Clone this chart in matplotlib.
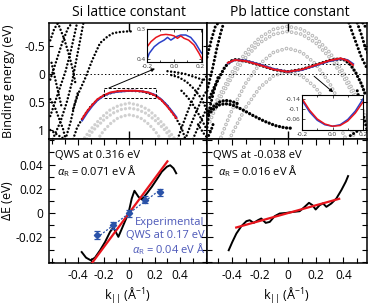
import numpy as np
import matplotlib.pyplot as plt
from matplotlib.ticker import MultipleLocator, FixedLocator

plt.rcParams['font.family'] = ['Open Sans', 'DejaVu Sans']
plt.rcParams['mathtext.fontset'] = 'custom'
plt.rcParams['mathtext.rm'] = 'Open Sans'
plt.rcParams['mathtext.it'] = 'Open Sans:italic'
plt.rcParams['lines.scale_dashes'] = False

# ---------------- data ----------------
# top left: Si lattice constant (k in 1/A, binding energy in eV)
si_qws_k = [-0.44, -0.41, -0.38, -0.35, -0.3, -0.25, -0.2, -0.1, 0, 0.1, 0.2, 0.25, 0.3, 0.35, 0.38, 0.41, 0.44]
si_qws_e = [1.16, 0.96, 0.84, 0.73, 0.57, 0.46, 0.38, 0.31, 0.30, 0.31, 0.38, 0.46, 0.57, 0.73, 0.84, 0.96, 1.16]
si_red_k = [-0.37, -0.33, -0.29, -0.25, -0.2, -0.15, -0.1, -0.05, 0, 0.05, 0.1, 0.15, 0.2, 0.25, 0.29, 0.33, 0.37]
si_red_e = [0.80, 0.66, 0.55, 0.45, 0.38, 0.33, 0.31, 0.30, 0.30, 0.30, 0.31, 0.33, 0.38, 0.46, 0.56, 0.67, 0.79]
si_blue_e = [0.83, 0.69, 0.57, 0.47, 0.39, 0.34, 0.32, 0.31, 0.30, 0.30, 0.31, 0.33, 0.37, 0.45, 0.54, 0.65, 0.77]
si_hole_k = [-0.44, -0.4, -0.345, -0.29, -0.23, -0.17, -0.125, -0.07, -0.016, 0.03]
si_hole_e = [0.62, 0.35, 0.07, -0.25, -0.55, -0.67, -0.73, -0.75, -0.76, -0.76]
si_edge_k = [[-0.62, -0.57, -0.52, -0.48, -0.45],
             [-0.62, -0.56, -0.5, -0.46, -0.43, -0.41],
             [-0.6, -0.54, -0.49, -0.45, -0.42, -0.39, -0.36],
             [-0.5, -0.46, -0.43, -0.4],
             [-0.56, -0.51, -0.47, -0.44, -0.42],
             [-0.62, -0.59, -0.56],
             [-0.62, -0.58, -0.54, -0.51],
             [-0.62, -0.58, -0.55, -0.52, -0.5],
             [-0.61, -0.58, -0.555, -0.53],
             [0.38, 0.42, 0.47, 0.52, 0.57, 0.62],
             [0.44, 0.48, 0.53, 0.58, 0.62],
             [0.5, 0.55, 0.59, 0.62],
             [0.33, 0.39, 0.45, 0.51, 0.57, 0.62],
             [0.3, 0.37, 0.44, 0.52, 0.6],
             [0.41, 0.46, 0.51, 0.56, 0.61],
             [0.54, 0.58, 0.62]]
si_edge_e = [[0.1, -0.25, -0.6, -0.82, -0.91],
             [0.75, 0.35, -0.05, -0.4, -0.7, -0.91],
             [1.16, 0.85, 0.5, 0.15, -0.2, -0.55, -0.91],
             [1.16, 0.85, 0.55, 0.3],
             [-0.91, -0.62, -0.32, -0.05, 0.2],
             [-0.6, -0.8, -0.91],
             [1.0, 1.06, 1.12, 1.16],
             [0.45, 0.62, 0.8, 0.98, 1.16],
             [-0.2, 0.1, 0.35, 0.6],
             [1.16, 0.9, 0.6, 0.35, 0.15, 0.0],
             [1.16, 0.92, 0.65, 0.4, 0.25],
             [1.16, 0.9, 0.7, 0.55],
             [0.02, 0.06, 0.14, 0.27, 0.45, 0.7],
             [-0.05, -0.03, 0.0, 0.06, 0.12],
             [0.3, 0.42, 0.58, 0.78, 1.0],
             [0.9, 1.05, 1.16]]
si_grey_k = [[-0.37, -0.3, -0.22, -0.15, -0.08, 0, 0.08, 0.15, 0.22, 0.3, 0.37],
             [-0.35, -0.28, -0.2, -0.13, -0.06, 0, 0.06, 0.13, 0.2, 0.28, 0.35],
             [-0.25, -0.2, -0.15, -0.1, -0.05, 0, 0.05, 0.1, 0.15, 0.2, 0.25]]
si_grey_e = [[1.2, 0.98, 0.78, 0.64, 0.56, 0.52, 0.56, 0.64, 0.78, 0.98, 1.2],
             [1.22, 1.0, 0.82, 0.70, 0.63, 0.61, 0.63, 0.70, 0.82, 1.0, 1.22],
             [1.17, 1.01, 0.89, 0.8, 0.75, 0.73, 0.75, 0.8, 0.89, 1.01, 1.17]]
si_inset_red_k = [-0.207, -0.17, -0.133, -0.096, -0.059, -0.022, 0.002, 0.027, 0.052, 0.076, 0.11, 0.15, 0.188, 0.21]
si_inset_red_e = [0.364, 0.342, 0.328, 0.32, 0.318, 0.32, 0.323, 0.331, 0.323, 0.331, 0.337, 0.353, 0.381, 0.40]
si_inset_blue_k = [-0.207, -0.183, -0.146, -0.109, -0.072, -0.047, -0.022, 0.015, 0.052, 0.089, 0.126, 0.163, 0.2, 0.21]
si_inset_blue_e = [0.409, 0.381, 0.359, 0.346, 0.337, 0.328, 0.337, 0.326, 0.32, 0.32, 0.328, 0.348, 0.376, 0.382]

# top right: Pb lattice constant
pb_w_k = [-0.56, -0.53, -0.49, -0.45, -0.41, -0.37, -0.3, -0.2, -0.1, 0, 0.1, 0.2, 0.3, 0.37, 0.41, 0.45, 0.49, 0.53, 0.56]
pb_w_e = [0.42, 0.25, 0.05, -0.13, -0.23, -0.26, -0.23, -0.16, -0.08, -0.04, -0.08, -0.16, -0.24, -0.27, -0.25, -0.17, -0.02, 0.18, 0.38]
pb_red_k = [-0.43, -0.38, -0.3, -0.2, -0.1, 0, 0.1, 0.2, 0.3, 0.38, 0.43, 0.47]
pb_red_e = [-0.2, -0.25, -0.23, -0.16, -0.08, -0.04, -0.08, -0.16, -0.24, -0.28, -0.24, -0.16]
pb_blue_e = [-0.19, -0.25, -0.24, -0.17, -0.09, -0.04, -0.07, -0.15, -0.23, -0.27, -0.25, -0.18]
pb_low_k = [[-0.57, -0.53, -0.49, -0.45, -0.4, -0.33, -0.25, -0.17, -0.09, -0.02, 0.04],
            [-0.57, -0.53, -0.49, -0.45, -0.4, -0.34]]
pb_low_e = [[0.72, 0.62, 0.55, 0.53, 0.55, 0.63, 0.74, 0.84, 0.92, 0.96, 0.97],
            [0.66, 0.57, 0.5, 0.47, 0.49, 0.55]]
pb_edge_k = [[-0.58, -0.55, -0.52, -0.5],
             [-0.58, -0.54, -0.51, -0.48, -0.46],
             [-0.58, -0.56, -0.53, -0.5],
             [-0.58, -0.55, -0.53],
             [0.44, 0.47, 0.5, 0.53, 0.57],
             [0.5, 0.53, 0.56, 0.58],
             [0.54, 0.57],
             [0.5, 0.53, 0.56, 0.58],
             [0.45, 0.5, 0.55]]
pb_edge_e = [[-0.3, -0.6, -0.85, -0.91],
             [0.3, -0.1, -0.45, -0.75, -0.91],
             [0.95, 0.6, 0.3, 0.05],
             [1.16, 1.0, 0.85],
             [-0.91, -0.7, -0.5, -0.3, -0.1],
             [-0.91, -0.7, -0.45, -0.35],
             [-0.91, -0.8],
             [0.3, 0.6, 0.9, 1.1],
             [1.1, 1.02, 0.98]]
pb_grey_k = [[-0.6, -0.55, -0.5, -0.4, -0.3, -0.2, -0.1, 0, 0.1, 0.2, 0.3, 0.4, 0.5, 0.55, 0.6],
             [-0.56, -0.5, -0.4, -0.3, -0.2, -0.1, 0, 0.1, 0.2, 0.3, 0.4, 0.5, 0.56],
             [-0.48, -0.45, -0.4, -0.3, -0.2, -0.1, 0, 0.1, 0.2, 0.3, 0.4, 0.45, 0.48],
             [-0.42, -0.38, -0.3, -0.2, -0.1, 0, 0.1, 0.2, 0.3, 0.38, 0.42]]
pb_grey_e = [[0.99, 0.69, 0.43, -0.03, -0.39, -0.65, -0.80, -0.85, -0.80, -0.65, -0.39, -0.03, 0.43, 0.69, 0.99],
             [0.85, 0.5, 0.05, -0.3, -0.56, -0.71, -0.76, -0.71, -0.56, -0.3, 0.05, 0.5, 0.85],
             [1.13, 0.94, 0.64, 0.16, -0.18, -0.39, -0.46, -0.39, -0.18, 0.16, 0.64, 0.94, 1.13],
             [1.17, 0.97, 0.59, 0.24, 0.03, -0.04, 0.03, 0.24, 0.59, 0.97, 1.17]]
pb_inset_k = [-0.2, -0.15, -0.1, -0.05, 0, 0.05, 0.1, 0.15, 0.2]
pb_inset_red_e = [-0.142, -0.095, -0.06, -0.04, -0.031, -0.034, -0.052, -0.084, -0.128]
pb_inset_blue_e = [-0.135, -0.088, -0.055, -0.037, -0.031, -0.037, -0.058, -0.092, -0.14]

# bottom left: Si splitting
si_split_k = [-0.371, -0.337, -0.30, -0.267, -0.227, -0.188, -0.149, -0.123, -0.084, -0.045, -0.005, 0.021, 0.042,
              0.073, 0.099, 0.139, 0.178, 0.217, 0.256, 0.296, 0.322, 0.348, 0.369]
si_split_de = [-0.032, -0.0366, -0.0388, -0.0366, -0.0305, -0.0237, -0.0154, -0.0118, -0.0195, -0.0099, 0.0, 0.0121,
               0.0184, 0.0135, 0.0113, 0.0162, 0.0217, 0.0278, 0.0341, 0.0382, 0.0394, 0.0369, 0.0328]
si_fit_k = [-0.29, 0.30]
si_fit_de = [-0.041, 0.0426]
exp_k = [-0.25, -0.125, 0.0, 0.125, 0.24]
exp_de = [-0.018, -0.010, 0.0, 0.011, 0.017]
exp_err = [0.003, 0.003, 0.003, 0.003, 0.003]
exp_fit_k = [-0.25, 0.24]
exp_fit_de = [-0.020, 0.019]

# bottom right: Pb splitting
pb_split_k = [-0.424, -0.398, -0.369, -0.333, -0.297, -0.273, -0.245, -0.214, -0.19, -0.158, -0.129, -0.094, -0.058,
              -0.01, 0.038, 0.086, 0.122, 0.153, 0.178, 0.201, 0.23, 0.254, 0.278, 0.314, 0.35, 0.386, 0.417, 0.434]
pb_split_de = [-0.0305, -0.0237, -0.0168, -0.0107, -0.0066, -0.0058, -0.008, -0.0058, -0.0044, -0.008, -0.0072,
               -0.0025, -0.0003, 0.0002, 0.001, 0.0016, 0.0052, 0.0085, 0.0066, 0.003, 0.0066, 0.008, 0.0052, 0.008,
               0.0121, 0.019, 0.0258, 0.0305]
pb_fit_k = [-0.37, 0.37]
pb_fit_de = [-0.0118, 0.0118]

RED = '#e8141c'
BLUE = '#2b40c8'
EXPB = '#2a52a8'
TXTB = '#4b57b8'

W, H = 374, 306
fig = plt.figure(figsize=(W / 100, H / 100), dpi=100)


def rect(x0, y0, x1, y1):
    return [x0 / W, 1 - y1 / H, (x1 - x0) / W, (y1 - y0) / H]


def dots(ax, k, e, color='black', size=1.8, gap=2.6, z=2):
    ax.plot(k, e, color=color, lw=size, linestyle=(0, (0.01, gap)),
            dash_capstyle='round', zorder=z)


def rings(ax, k, e, color='#b8b8b8', size=2.7, gap=3.3):
    ax.plot(k, e, color=color, lw=size, linestyle=(0, (0.01, gap)), dash_capstyle='round', zorder=1)
    ax.plot(k, e, color='white', lw=size * 0.45, linestyle=(0, (0.01, gap)), dash_capstyle='round', zorder=1.1)


def frame(ax, lw=1.1):
    for s in ax.spines.values():
        s.set_linewidth(lw)


ax_si = fig.add_axes(rect(49, 23, 207, 139))
ax_pb = fig.add_axes(rect(207, 23, 367, 139))
ax_sd = fig.add_axes(rect(49, 139, 207, 263))
ax_pd = fig.add_axes(rect(207, 139, 367, 263), sharey=ax_sd)

# ---------- top panels ----------
for ax in (ax_si, ax_pb):
    frame(ax)
    ax.set_ylim(1.16, -0.91)
    ax.yaxis.set_major_locator(FixedLocator([-0.5, 0, 0.5, 1]))
    ax.xaxis.set_major_locator(FixedLocator([0]))
    ax.tick_params(axis='x', direction='in', top=True, length=6, width=1, labelbottom=False)
    ax.tick_params(axis='y', direction='in', right=True, length=3, width=0.8, labelsize=8.6, pad=3)
ax_si.set_xlim(-0.63, 0.61)
ax_pb.set_xlim(-0.58, 0.57)
ax_si.set_yticklabels(['-0.5', '0', '0.5', '1'])
ax_pb.tick_params(axis='y', labelleft=False)
ax_si.set_ylabel('Binding energy (eV)', fontsize=9)
ax_si.yaxis.set_label_coords(-0.215, 0.5)

for k, e in zip(si_grey_k, si_grey_e):
    dots(ax_si, k, e, color='#d0d0d0', size=2.4, gap=3.0, z=1)
for k, e in zip(si_edge_k, si_edge_e):
    dots(ax_si, k, e)
dots(ax_si, si_hole_k, si_hole_e)
dots(ax_si, si_qws_k, si_qws_e)
ax_si.plot(si_red_k, si_blue_e, color=BLUE, lw=1.4, zorder=3)
ax_si.plot(si_red_k, si_red_e, color=RED, lw=1.4, zorder=3.1)
ax_si.plot([-0.45, 0.61], [0, 0], color='black', lw=0.7, ls=(0, (1, 1.6)), zorder=2)
ax_si.plot([-0.2, 0.21, 0.21, -0.2, -0.2], [0.25, 0.25, 0.43, 0.43, 0.25],
           color='black', lw=0.7, ls=(0, (2, 1.2)), zorder=4)

for k, e in zip(pb_grey_k, pb_grey_e):
    rings(ax_pb, k, e)
for k, e in zip(pb_edge_k, pb_edge_e):
    dots(ax_pb, k, e, size=2.2, gap=2.8)
for k, e in zip(pb_low_k, pb_low_e):
    dots(ax_pb, k, e, size=2.4, gap=2.6)
dots(ax_pb, pb_w_k, pb_w_e, size=2.4, gap=2.6)
ax_pb.plot(pb_red_k, pb_blue_e, color=BLUE, lw=1.4, zorder=3)
ax_pb.plot(pb_red_k, pb_red_e, color=RED, lw=1.4, zorder=3.1)
ax_pb.plot([-0.58, 0.57], [0, 0], color='black', lw=0.7, ls=(0, (1, 1.6)), zorder=2)
ax_pb.plot([-0.22, 0.45], [-0.18, -0.18], color='black', lw=0.7, ls=(0, (1, 1.6)), zorder=2)

# insets
ins_si = fig.add_axes(rect(147, 29, 202, 62), zorder=5)
ins_si.plot(si_inset_blue_k, si_inset_blue_e, color=BLUE, lw=1.1)
ins_si.plot(si_inset_red_k, si_inset_red_e, color=RED, lw=1.1)
ins_si.set_xlim(-0.2, 0.21)
ins_si.set_ylim(0.41, 0.3)
ins_si.set_xticks([-0.2, 0.0, 0.2])
ins_si.set_xticklabels(['-0.2', '0.0', '0.2'])
ins_si.set_yticks([0.3, 0.4])
ins_si.set_yticklabels(['0.3', '0.4'])

ins_pb = fig.add_axes(rect(302, 95, 363, 130), zorder=5)
ins_pb.plot(pb_inset_k, pb_inset_blue_e, color=BLUE, lw=1.1)
ins_pb.plot(pb_inset_k, pb_inset_red_e, color=RED, lw=1.1)
ins_pb.set_xlim(-0.2, 0.2)
ins_pb.set_ylim(-0.016, -0.156)
ins_pb.set_xticks([-0.2, 0.0, 0.2])
ins_pb.set_xticklabels(['-0.2', '0.0', '0.2'])
ins_pb.set_yticks([-0.14, -0.1, -0.06])
ins_pb.set_yticklabels(['-0.14', '-0.1', '-0.06'])

for ins in (ins_si, ins_pb):
    frame(ins, 0.8)
    ins.tick_params(direction='in', length=2, width=0.6, labelsize=4.6, pad=1.2,
                    colors='#333333', top=True, right=True)
    ins.xaxis.set_minor_locator(MultipleLocator(0.1))
    ins.tick_params(which='minor', direction='in', length=1.2, width=0.5, top=True)

ax_si.annotate('', xy=(0.145, -0.2), xycoords=ins_si.transAxes, xytext=(-0.16, 0.25),
               textcoords='data', arrowprops=dict(arrowstyle='-|>', color='black', lw=0.7,
                                                  mutation_scale=5, shrinkA=0, shrinkB=0), zorder=6)
ax_pb.annotate('', xy=(0.51, 1.08), xycoords=ins_pb.transAxes, xytext=(0.19, 0.04),
               textcoords='data', arrowprops=dict(arrowstyle='-|>', color='black', lw=0.7,
                                                  mutation_scale=5, shrinkA=0, shrinkB=0), zorder=6)

fig.text(129 / W, 1 - 12 / H, 'Si lattice constant', ha='center', va='center', fontsize=10)
fig.text(290 / W, 1 - 12 / H, 'Pb lattice constant', ha='center', va='center', fontsize=10)

# ---------- bottom panels ----------
for ax in (ax_sd, ax_pd):
    frame(ax)
    ax.xaxis.set_major_locator(FixedLocator([-0.4, -0.2, 0, 0.2, 0.4]))
    ax.xaxis.set_minor_locator(MultipleLocator(0.1))
    ax.yaxis.set_minor_locator(MultipleLocator(0.01))
    ax.tick_params(which='both', direction='in', top=True, right=True, width=0.8, labelsize=8.6)
    ax.tick_params(which='major', length=4.5, pad=4)
    ax.tick_params(which='minor', length=3.5)
    ax.set_xticklabels(['-0.4', '-0.2', '0', '0.2', '0.4'])
    ax.set_xlabel(r'k$_{||}$ ($\mathrm{\AA}^{-1}$)', fontsize=9, labelpad=3)
ax_sd.set_xlim(-0.627, 0.61)
ax_pd.set_xlim(-0.58, 0.57)
ax_sd.set_ylim(-0.041, 0.061)
ax_sd.yaxis.set_major_locator(FixedLocator([-0.02, 0, 0.02, 0.04]))
ax_sd.set_yticklabels(['-0.02', '0', '0.02', '0.04'])
ax_pd.tick_params(axis='y', labelleft=False)
ax_sd.set_ylabel(r'$\Delta$E (eV)', fontsize=9)
ax_sd.yaxis.set_label_coords(-0.215, 0.5)

ax_sd.plot(si_split_k, si_split_de, color='black', lw=1.4, zorder=2)
ax_sd.plot(si_fit_k, si_fit_de, color=RED, lw=1.6, zorder=3)
ax_sd.plot(exp_fit_k, exp_fit_de, color=EXPB, lw=0.9, ls=(0, (1.5, 1.2)), zorder=3)
ax_sd.errorbar(exp_k, exp_de, yerr=exp_err, fmt='D', ms=3.2, color=EXPB, ecolor=EXPB,
               elinewidth=0.9, capsize=2, capthick=0.9, zorder=4)

ax_pd.plot(pb_split_k, pb_split_de, color='black', lw=1.4, zorder=2)
ax_pd.plot(pb_fit_k, pb_fit_de, color=RED, lw=1.6, zorder=3)

FS = 8
ax_sd.text(0.038, 0.87, 'QWS at 0.316 eV', transform=ax_sd.transAxes, fontsize=FS, va='center')
ax_sd.text(0.05, 0.74, r'$\alpha_\mathrm{R}$ = 0.071 eV Å', transform=ax_sd.transAxes, fontsize=FS, va='center')
ax_sd.text(0.985, 0.33, 'Experimental', transform=ax_sd.transAxes, fontsize=FS, va='center',
           ha='right', color=TXTB)
ax_sd.text(0.985, 0.225, 'QWS at 0.17 eV', transform=ax_sd.transAxes, fontsize=FS, va='center',
           ha='right', color=TXTB)
ax_sd.text(0.99, 0.115, r'$\alpha_\mathrm{R}$ = 0.04 eV Å', transform=ax_sd.transAxes, fontsize=FS,
           va='center', ha='right', color=TXTB)

ax_pd.text(0.0375, 0.87, 'QWS at -0.038 eV', transform=ax_pd.transAxes, fontsize=FS, va='center')
ax_pd.text(0.07, 0.74, r'$\alpha_\mathrm{R}$ = 0.016 eV Å', transform=ax_pd.transAxes, fontsize=FS, va='center')

fig.savefig('out.png', dpi=100)
